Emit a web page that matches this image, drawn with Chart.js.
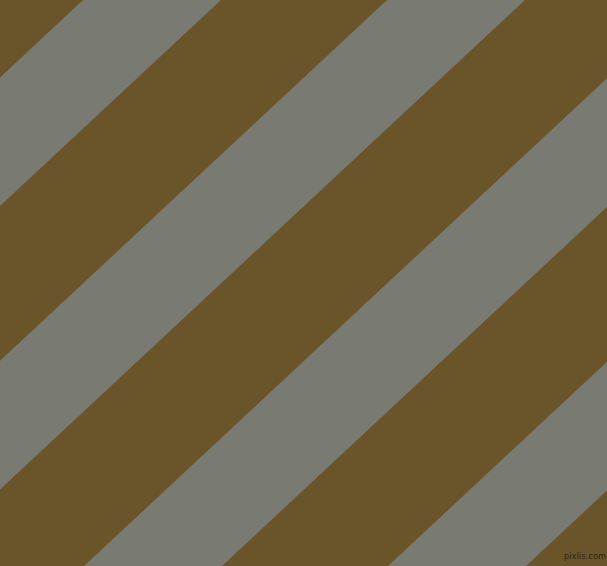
<!DOCTYPE html>
<html>
<head>
<meta charset="utf-8">
<script src="https://cdn.jsdelivr.net/npm/chart.js@4/dist/chart.umd.min.js"></script>
<style>
    html, body { margin: 0; padding: 0; background: #6a5429; }
    .stripes { position: relative; width: 607px; height: 566px; overflow: hidden; }
    .stripes__mark {
        position: absolute; left: 564px; top: 552px;
        font: 8px 'DejaVu Sans', sans-serif; color: #2a2312;
        letter-spacing: 0.2px;
    }
</style>
</head>
<body>
<div class="stripes">
    <canvas id="stripesChart" width="607" height="566"></canvas>
    <div class="stripes__mark">pixlis.com</div>
</div>
<script>
    // gray bands: where each one starts/ends along the top edge (y = 0)
    const grayTopStart = [83, 387, 691, 995];
    const grayTopEnd = [221, 525, 829, 1133];
    // how far left a band edge moves between top and bottom edge
    const bandShift = 607;
    const chartWidth = 607;
    const chartHeight = 566;

    const StripesPage = {
        chart: null,

        init() {
            this.render();
        },

        buildBands() {
            return grayTopStart.map((start, i) => {
                const end = grayTopEnd[i];
                return {
                    label: 'band ' + (i + 1),
                    data: [
                        { x: start, y: 0 },
                        { x: end, y: 0 },
                        { x: end - bandShift, y: chartHeight },
                        { x: start - bandShift, y: chartHeight },
                        { x: start, y: 0 }
                    ],
                    showLine: true,
                    fill: 'shape',
                    backgroundColor: '#797a72',
                    borderColor: '#797a72',
                    borderWidth: 0,
                    pointRadius: 0,
                    tension: 0
                };
            });
        },

        render() {
            const ctx = document.getElementById('stripesChart');
            if (!ctx) return;

            if (this.chart) this.chart.destroy();

            this.chart = new Chart(ctx, {
                type: 'scatter',
                data: { datasets: this.buildBands() },
                options: {
                    responsive: false,
                    animation: false,
                    devicePixelRatio: 1,
                    layout: { padding: 0 },
                    plugins: {
                        legend: { display: false },
                        tooltip: { enabled: false }
                    },
                    scales: {
                        x: { type: 'linear', min: 0, max: chartWidth, display: false },
                        y: { type: 'linear', min: 0, max: chartHeight, reverse: true, display: false }
                    }
                }
            });
        }
    };

    StripesPage.init();
</script>
</body>
</html>
